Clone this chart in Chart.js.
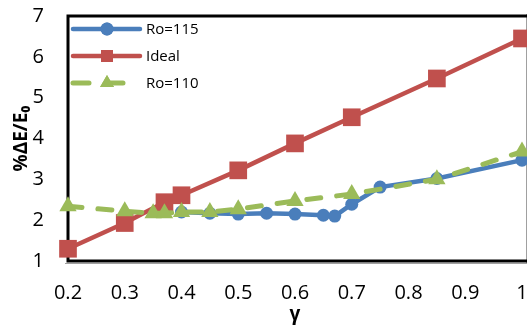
<!DOCTYPE html>
<html>
<head>
<meta charset="utf-8">
<script src="https://cdn.jsdelivr.net/npm/chart.js@4/dist/chart.umd.min.js"></script>
<style>
html,body{margin:0;padding:0;background:#fff;}
#wrap{width:527px;height:326px;position:relative;}
</style>
</head>
<body>
<div id="wrap"><canvas id="c" width="527" height="326"></canvas></div>
<script>
// ---- data ----
const ro115X = [0.4, 0.45, 0.5, 0.55, 0.6, 0.65, 0.67, 0.7, 0.75, 0.85, 1.0];
const ro115Y = [2.2, 2.17, 2.15, 2.17, 2.15, 2.12, 2.1, 2.39, 2.81, 3.02, 3.47];
const idealX = [0.2, 0.3, 0.37, 0.4, 0.5, 0.6, 0.7, 0.85, 1.0];
const idealY = [1.3, 1.93, 2.44, 2.61, 3.22, 3.88, 4.52, 5.47, 6.45];
const ro110X = [0.2, 0.3, 0.35, 0.37, 0.4, 0.45, 0.5, 0.6, 0.7, 0.85, 1.0];
const ro110Y = [2.34, 2.22, 2.17, 2.17, 2.2, 2.2, 2.27, 2.47, 2.64, 3.0, 3.68];
const seriesNames = ['Ro=115', 'Ideal', 'Ro=110'];
const xTicks = [0.2, 0.3, 0.4, 0.5, 0.6, 0.7, 0.8, 0.9, 1];
const yTicks = [1, 2, 3, 4, 5, 6, 7];
const xTitle = 'γ';
const yTitle = '%ΔE/E₀';

const pts = (xs, ys) => xs.map((x, i) => ({x: x, y: ys[i]}));
const BLUE = '#4A7EBB', RED = '#C0504D', GREEN = '#9BBB59';
const FONT = "'Open Sans', 'DejaVu Sans', sans-serif";
const AREA = {left: 68, top: 16, right: 522, bottom: 261};

const areaPlugin = {
  id: 'fixArea',
  afterLayout(chart) {
    const ca = chart.chartArea;
    ca.left = AREA.left; ca.top = AREA.top; ca.right = AREA.right; ca.bottom = AREA.bottom;
    ca.width = AREA.right - AREA.left; ca.height = AREA.bottom - AREA.top;
    const x = chart.scales.x, y = chart.scales.y;
    x.left = AREA.left; x.right = AREA.right; x.width = AREA.right - AREA.left;
    x.top = AREA.bottom; x.bottom = chart.height; x.height = chart.height - AREA.bottom;
    y.left = 0; y.right = AREA.left; y.width = AREA.left;
    y.top = AREA.top; y.bottom = AREA.bottom; y.height = AREA.bottom - AREA.top;
    x.configure(); y.configure();
  }
};

const framePlugin = {
  id: 'frame',
  beforeDatasetsDraw(chart) {
    const a = chart.chartArea, ctx = chart.ctx;
    ctx.save();
    ctx.strokeStyle = '#A0A0A0';
    ctx.lineWidth = 1;
    ctx.beginPath();
    ctx.moveTo(a.right + 4.5, a.top - 2);
    ctx.lineTo(a.right + 4.5, a.bottom + 2);
    ctx.moveTo(a.left - 3, a.bottom + 2.5);
    ctx.lineTo(a.right + 5, a.bottom + 2.5);
    ctx.stroke();
    ctx.strokeStyle = '#000';
    ctx.lineWidth = 3;
    ctx.beginPath();
    ctx.moveTo(a.right + 5, a.top);
    ctx.lineTo(a.left, a.top);
    ctx.lineTo(a.left, a.bottom);
    ctx.lineTo(a.right + 5, a.bottom);
    ctx.stroke();
    ctx.restore();
  }
};

const legendPlugin = {
  id: 'customLegend',
  afterDatasetsDraw(chart) {
    const ctx = chart.ctx;
    const x0 = 73, x1 = 140, mx = 107, tx = 146;
    const ys = [29, 56, 83];
    chart.data.datasets.forEach((ds, i) => {
      const y = ys[i];
      ctx.save();
      ctx.strokeStyle = ds.borderColor;
      ctx.lineWidth = ds.borderWidth;
      ctx.lineCap = 'round';
      if (ds.borderDash) ctx.setLineDash(ds.legendDash || ds.borderDash);
      ctx.beginPath();
      ctx.moveTo(x0, y);
      ctx.lineTo(x1, y);
      ctx.stroke();
      ctx.setLineDash([]);
      ctx.restore();
      ctx.save();
      ctx.fillStyle = ds.backgroundColor;
      Chart.helpers.drawPoint(ctx, {pointStyle: ds.pointStyle, radius: ds.legendRadius, borderWidth: 0}, mx, y);
      ctx.fill();
      ctx.restore();
      ctx.save();
      ctx.fillStyle = '#000';
      ctx.font = '15px ' + FONT;
      ctx.textAlign = 'left';
      ctx.textBaseline = 'middle';
      ctx.fillText(seriesNames[i], tx, y + 1);
      ctx.restore();
    });
  }
};

new Chart(document.getElementById('c'), {
  type: 'line',
  data: {
    datasets: [
      {
        label: seriesNames[0], data: pts(ro115X, ro115Y),
        borderColor: BLUE, backgroundColor: BLUE, borderWidth: 4.5,
        pointStyle: 'circle', pointRadius: 6.5, pointBorderWidth: 0,
        legendRadius: 6.5, order: 1, clip: false
      },
      {
        label: seriesNames[1], data: pts(idealX, idealY),
        borderColor: RED, backgroundColor: RED, borderWidth: 4.5,
        pointStyle: 'rect', pointRadius: 12.5, pointBorderWidth: 0,
        legendRadius: 8.5, order: 2, clip: false
      },
      {
        label: seriesNames[2], data: pts(ro110X, ro110Y),
        borderColor: GREEN, backgroundColor: GREEN, borderWidth: 5,
        borderDash: [14, 16], borderCapStyle: 'round', legendDash: [16, 18],
        pointStyle: 'triangle', pointRadius: 10, pointBorderWidth: 0,
        legendRadius: 8, order: 0, clip: false
      }
    ]
  },
  options: {
    responsive: false,
    animation: false,
    events: [],
    layout: {padding: 0},
    plugins: {legend: {display: false}, tooltip: {enabled: false}},
    scales: {
      x: {
        type: 'linear', min: 0.2, max: 1.0,
        afterBuildTicks: s => { s.ticks = xTicks.map(v => ({value: v})); },
        grid: {display: false, drawTicks: false},
        border: {display: false},
        ticks: {
          padding: 20, color: '#000', maxRotation: 0, autoSkip: false,
          font: {family: FONT, size: 20},
          callback: v => String(Math.round(v * 10) / 10)
        },
        title: {display: true, text: xTitle, color: '#000', padding: {top: 0, bottom: 0},
                font: {family: FONT, size: 19, weight: 'bold'}}
      },
      y: {
        type: 'linear', min: 1, max: 7,
        afterBuildTicks: s => { s.ticks = yTicks.map(v => ({value: v})); },
        grid: {display: false, drawTicks: false},
        border: {display: false},
        ticks: {padding: 24, color: '#000', font: {family: FONT, size: 20}},
        title: {display: true, text: yTitle, color: '#000', padding: {top: 10, bottom: 0},
                font: {family: FONT, size: 19, weight: 'bold'}}
      }
    }
  },
  plugins: [areaPlugin, framePlugin, legendPlugin]
});
</script>
</body>
</html>
